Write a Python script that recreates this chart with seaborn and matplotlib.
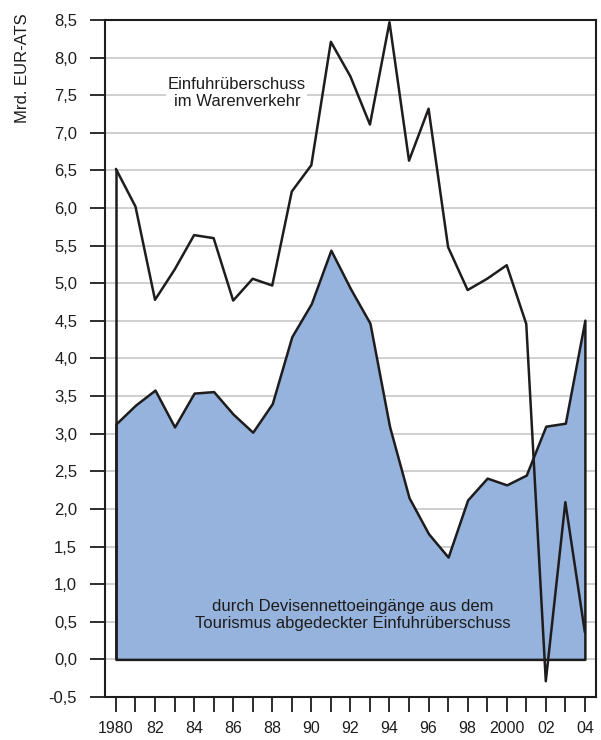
import matplotlib
matplotlib.use("Agg")
import matplotlib.pyplot as plt
import pandas as pd
import seaborn as sns

years = list(range(1980, 2005))
import_surplus = [6.52, 6.02, 4.78, 5.18, 5.64, 5.60, 4.77, 5.06, 4.97, 6.22,
                  6.57, 8.21, 7.75, 7.11, 8.47, 6.63, 7.32, 5.48, 4.91, 5.06,
                  5.24, 4.46, -0.29, 2.09, 0.36]
tourism_covered = [3.13, 3.38, 3.58, 3.09, 3.54, 3.56, 3.26, 3.02, 3.40, 4.29,
                   4.73, 5.44, 4.93, 4.47, 3.10, 2.15, 1.67, 1.36, 2.12, 2.41,
                   2.32, 2.45, 3.10, 3.14, 4.51]
y_ticks = [-0.5 + 0.5 * i for i in range(19)]
x_label_years = list(range(1980, 2005, 2))
x_tick_labels = ["1980", "82", "84", "86", "88", "90", "92", "94", "96", "98",
                 "2000", "02", "04"]

df = pd.DataFrame({"Jahr": years, "Einfuhr": import_surplus,
                   "Tourismus": tourism_covered})

sns.set_style("white")
plt.rcParams["font.family"] = ["Liberation Sans", "DejaVu Sans"]

fig = plt.figure(figsize=(6.01, 7.40), dpi=100)
ax = fig.add_axes([0.1747, 0.0581, 0.817, 0.9149])

ink = "#1e1c1c"
blue = "#95b3dc"
ax.fill_between(df["Jahr"], 0, df["Tourismus"], facecolor=blue,
                edgecolor=ink, linewidth=1.8, zorder=2)
ax.vlines(years[0], 0, import_surplus[0], color=ink, linewidth=1.8, zorder=3)
sns.lineplot(data=df, x="Jahr", y="Einfuhr", ax=ax, color=ink,
             linewidth=1.8, zorder=3)

ax.set_xlim(1979.44, 2004.57)
ax.set_ylim(-0.5, 8.5)
ax.set_yticks(y_ticks)
ax.set_yticklabels([f"{v:.1f}".replace(".", ",") for v in y_ticks], fontsize=12)
ax.set_xticks(years)
labels = dict(zip(x_label_years, x_tick_labels))
ax.set_xticklabels([labels.get(y, "") for y in years], fontsize=11.5)
ax.tick_params(axis="both", direction="out", length=11, width=1.3,
               color=ink, labelcolor=ink, bottom=True, left=True)
ax.tick_params(axis="y", pad=9)
ax.tick_params(axis="x", pad=6)
ax.set_xlabel("")
ax.set_ylabel("")

ax.set_axisbelow(True)
ax.yaxis.grid(True, color="#cccccc", linewidth=1.3)
ax.xaxis.grid(False)
for sp in ax.spines.values():
    sp.set_color(ink)
    sp.set_linewidth(1.5)

ax.text(1986.19, 7.53, "Einfuhrüberschuss\nim Warenverkehr", ha="center",
        va="center", fontsize=12, color=ink, linespacing=1.15,
        bbox=dict(facecolor="white", edgecolor="none", pad=1), zorder=4)
ax.text(1992.13, 0.59, "durch Devisennettoeingänge aus dem\n"
        "Tourismus abgedeckter Einfuhrüberschuss", ha="center", va="center",
        fontsize=12, color=ink, linespacing=1.15, zorder=4)

fig.text(0.037, 0.982, "Mrd. EUR-ATS", rotation=90, ha="center", va="top",
         fontsize=12, color=ink)

fig.savefig("out.png", dpi=100)
